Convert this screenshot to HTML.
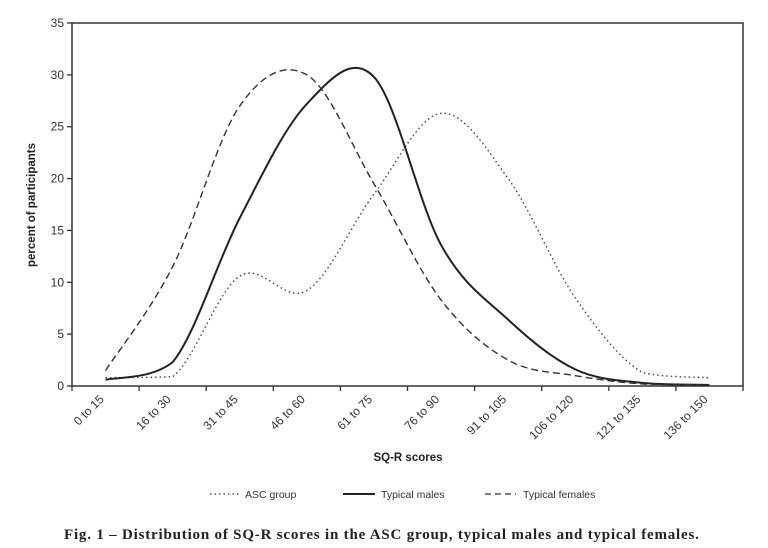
<!DOCTYPE html>
<html><head><meta charset="utf-8"><style>
html,body{margin:0;padding:0;background:#fff;width:768px;height:548px;overflow:hidden}
svg{display:block}
</style></head><body>
<svg id="s" width="768" height="548" xmlns="http://www.w3.org/2000/svg" font-family="Liberation Sans, Arial, sans-serif">
<g stroke="#333" stroke-width="1.5" fill="none">
<rect x="72" y="23" width="671" height="363"/>
</g>
<g id="ticks" stroke="#333" stroke-width="1.3"></g>
<g id="labels" font-size="12" fill="#333"></g>
<text x="35" y="205" font-size="11.5" font-weight="bold" transform="rotate(-90 35 205)" text-anchor="middle" fill="#222">percent of participants</text>
<text x="408" y="461" font-size="11.5" font-weight="bold" text-anchor="middle" fill="#222">SQ-R scores</text>
<g id="series" fill="none" stroke="#222"></g>
<g font-size="10.5" fill="#333">
<line x1="210" y1="494" x2="241" y2="494" stroke="#333" stroke-width="1.3" stroke-dasharray="1.5,3"/>
<text x="245" y="498">ASC group</text>
<line x1="343" y1="494" x2="375" y2="494" stroke="#222" stroke-width="2"/>
<text x="381" y="498">Typical males</text>
<line x1="485" y1="494" x2="516" y2="494" stroke="#333" stroke-width="1.3" stroke-dasharray="6,4"/>
<text x="523" y="498">Typical females</text>
</g>
<text x="64" y="539" font-family="Liberation Serif, serif" font-size="15" font-weight="bold" letter-spacing="0.8" fill="#222">Fig. 1 – Distribution of SQ-R scores in the ASC group, typical males and typical females.</text>
</svg>
<script>
var NS="http://www.w3.org/2000/svg";
function el(t,a,p){var e=document.createElementNS(NS,t);for(var k in a)e.setAttribute(k,a[k]);document.getElementById(p).appendChild(e);return e;}
var x0=72,dx=67.1,y0=386,sc=363/35;
for(var v=0;v<=35;v+=5){var y=y0-v*sc;el("line",{x1:67,y1:y,x2:72,y2:y},"ticks");var t=el("text",{x:64,y:y+4,"text-anchor":"end"},"labels");t.textContent=v;}
var cats=["0 to 15","16 to 30","31 to 45","46 to 60","61 to 75","76 to 90","91 to 105","106 to 120","121 to 135","136 to 150"];
for(var i=0;i<=10;i++){var x=x0+i*dx;el("line",{x1:x,y1:386,x2:x,y2:391},"ticks");}
cats.forEach(function(c,i){var x=x0+(i+0.5)*dx-1,y=400;var t=el("text",{x:x,y:y,"text-anchor":"end",transform:"rotate(-45 "+x+" "+y+")"},"labels");t.textContent=c;});
function path(d){var p=d.map(function(v,i){return [x0+(i+0.5)*dx,y0-v*sc];});var s="M"+p[0][0]+","+p[0][1];
for(var i=0;i<p.length-1;i++){var a=p[i-1]||p[i],b=p[i],c=p[i+1],e=p[i+2]||c;var k=1/6;
var lo=Math.max(b[1],c[1]);var near=Math.min(d[i],d[i+1])<3;function cy(y){return near?Math.min(y,lo):y;}
s+=" C"+(b[0]+(c[0]-a[0])*k)+","+cy(b[1]+(c[1]-a[1])*k)+" "+(c[0]-(e[0]-b[0])*k)+","+cy(c[1]-(e[1]-b[1])*k)+" "+c[0]+","+c[1];}return s;}
el("path",{d:path([0.8,0.9,10.6,9.2,18.5,26.3,20,8.5,1.3,0.8]),"stroke-width":1.4,"stroke-dasharray":"1.5,3",stroke:"#444"},"series");
el("path",{d:path([0.6,2.3,16.2,27.2,29.8,13.6,6.4,1.6,0.3,0.1]),"stroke-width":2},"series");
el("path",{d:path([1.5,11.5,27,30,19.5,8.3,2.5,1,0.2,0.1]),"stroke-width":1.4,"stroke-dasharray":"7,4",stroke:"#333"},"series");
</script>
</body></html>
